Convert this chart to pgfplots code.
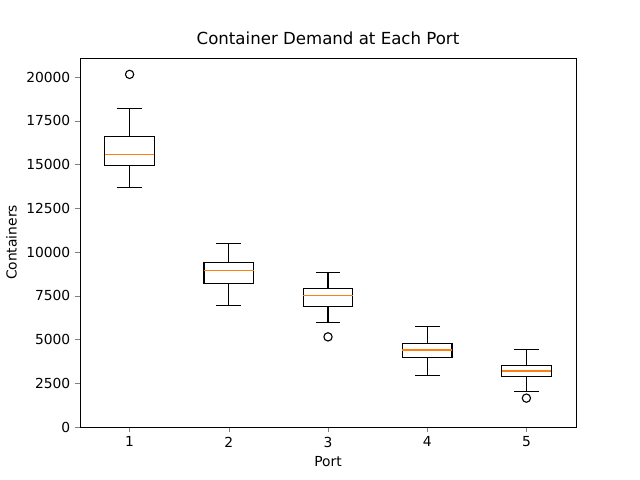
\documentclass[border=0pt]{standalone}
\usepackage{pgfplots}
\pgfplotsset{compat=1.18}
\usepgfplotslibrary{statistics}
\usepackage{fontspec}
\setmainfont{DejaVu Sans}
\definecolor{mplorange}{HTML}{FF7F0E}
\begin{document}
\begin{tikzpicture}
\path (-0.8in,-0.53in) rectangle (5.6in,4.27in);
\begin{axis}[scale only axis, width=4.96in, height=3.69in,
 at={(0,0)}, anchor=south west,
 xmin=0.5, xmax=5.5, ymin=0, ymax=21086,
 xtick={1,2,3,4,5}, ytick={0,2500,5000,7500,10000,12500,15000,17500,20000},
 scaled y ticks=false, /pgf/number format/assume math mode=true,
 yticklabel style={/pgf/number format/1000 sep={}},
 tick align=outside, tick pos=left, major tick length=3.5pt,
 tick label style={font=\fontsize{10}{12}\selectfont},
 label style={font=\fontsize{10}{12}\selectfont},
 title style={font=\fontsize{12}{14}\selectfont},
 title={Container Demand at Each Port}, xlabel={Port}, ylabel={Containers},
 boxplot/draw direction=y, boxplot/box extend=0.5, boxplot/whisker extend=0.25,
 every axis plot/.append style={line width=0.8pt},
 ]
\addplot[black, mark=o, mark size=3pt, boxplot prepared={draw position=1, lower whisker=13700, lower quartile=14950, median=15550, upper quartile=16600, upper whisker=18200, every median/.style={draw=mplorange}}] coordinates {(0,20150)};
\addplot[black, mark=o, mark size=3pt, boxplot prepared={draw position=2, lower whisker=6950, lower quartile=8200, median=8950, upper quartile=9400, upper whisker=10500, every median/.style={draw=mplorange}}] coordinates {};
\addplot[black, mark=o, mark size=3pt, boxplot prepared={draw position=3, lower whisker=5950, lower quartile=6900, median=7500, upper quartile=7900, upper whisker=8850, every median/.style={draw=mplorange}}] coordinates {(0,5150)};
\addplot[black, mark=o, mark size=3pt, boxplot prepared={draw position=4, lower whisker=2950, lower quartile=3950, median=4400, upper quartile=4750, upper whisker=5750, every median/.style={draw=mplorange}}] coordinates {};
\addplot[black, mark=o, mark size=3pt, boxplot prepared={draw position=5, lower whisker=2050, lower quartile=2900, median=3200, upper quartile=3500, upper whisker=4450, every median/.style={draw=mplorange}}] coordinates {(0,1650)};
\end{axis}
\end{tikzpicture}
\end{document}
